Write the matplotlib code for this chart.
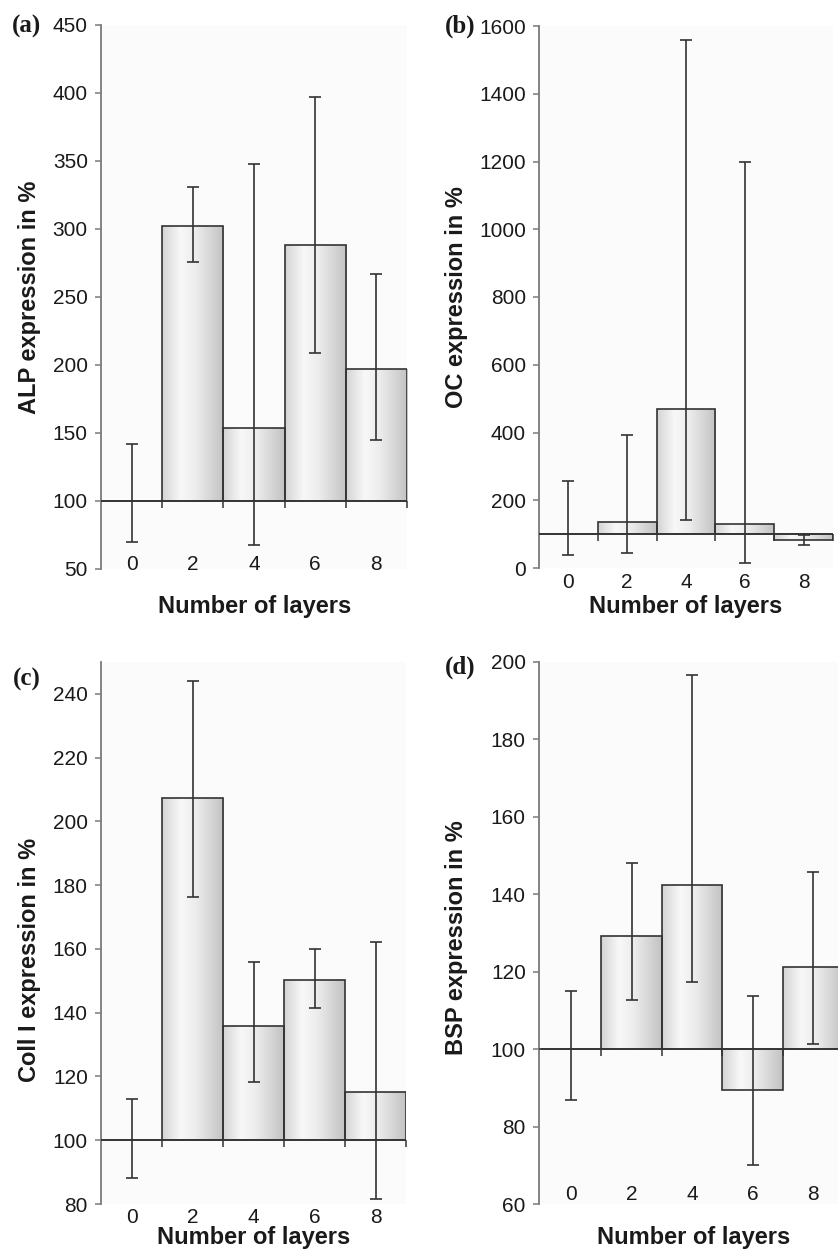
import numpy as np
import matplotlib
matplotlib.use("Agg")
import matplotlib.pyplot as plt
from matplotlib.colors import LinearSegmentedColormap
from matplotlib.markers import TICKDOWN

# ---------------- data ----------------
layers = ["0", "2", "4", "6", "8"]

alp_mean = [100, 302, 154, 288, 197]
alp_low = [70, 276, 68, 209, 145]
alp_high = [142, 331, 348, 397, 267]

oc_mean = [100, 136, 468, 131, 82]
oc_low = [38, 43, 141, 14, 68]
oc_high = [257, 393, 1560, 1200, 97]

col_mean = [100, 207.2, 135.7, 150.4, 115.2]
col_low = [88.2, 176.4, 118.3, 141.5, 81.6]
col_high = [113, 244, 156, 160.1, 162.3]

bsp_mean = [100, 129.3, 142.5, 89.4, 121.3]
bsp_low = [86.8, 112.8, 117.4, 70.2, 101.3]
bsp_high = [115, 148, 196.6, 113.7, 145.8]

alp_ticks = list(range(50, 451, 50))
oc_ticks = list(range(0, 1601, 200))
col_ticks = list(range(80, 241, 20))
bsp_ticks = list(range(60, 201, 20))

BASE = 100

# ---------------- figure ----------------
W, H = 838, 1251
DPI = 100
fig = plt.figure(figsize=(W / DPI, H / DPI), dpi=DPI)
fig.patch.set_facecolor("white")

SANS = "Liberation Sans"
SERIF = "Liberation Serif"

grad_cmap = LinearSegmentedColormap.from_list(
    "bargrad",
    [(0.0, "#d4d4d4"), (0.3, "#f8f8f8"), (0.55, "#ececec"), (1.0, "#c2c2c2")])
grad = np.linspace(0, 1, 256).reshape(1, -1)


def px_axes(left, right, top, bottom):
    return fig.add_axes([left / W, 1 - bottom / H, (right - left) / W, (bottom - top) / H])


def panel(ax, mean, low, high, ylim, yticks, xlim, xpad):
    x = np.arange(len(layers))
    ax.set_facecolor("#fbfbfb")
    heights = [m - BASE for m in mean]
    bars = ax.bar(x, heights, width=1.0, bottom=BASE, facecolor="none",
                  edgecolor="#333333", linewidth=1.2, zorder=3)
    for p in bars.patches:
        bb = p.get_bbox()
        y0, y1 = sorted([bb.y0, bb.y1])
        if y1 - y0 <= 0:
            continue
        im = ax.imshow(grad, extent=(bb.x0, bb.x1, y0, y1), aspect="auto",
                       cmap=grad_cmap, vmin=0, vmax=1, zorder=2,
                       interpolation="bilinear")
        im.set_clip_path(p)
    ax.axhline(BASE, color="#333333", lw=1.2, zorder=3.5)
    edges = x[1:] - 0.5
    edges = np.append(edges, x[-1] + 0.5)
    ax.plot(edges, [BASE] * len(edges), ls="none", marker=TICKDOWN,
            markersize=5, markeredgewidth=1.1, color="#333333", zorder=3.5,
            clip_on=False)
    yerr = [np.array(mean) - np.array(low), np.array(high) - np.array(mean)]
    ax.errorbar(x, mean, yerr=yerr, fmt="none", ecolor="#333333",
                elinewidth=1.2, capsize=4.5, capthick=1.2, zorder=4)
    ax.set_xlim(*xlim)
    ax.set_ylim(*ylim)
    ax.set_yticks(yticks)
    ax.set_xticks(x)
    ax.set_xticklabels(layers)
    for s in ["top", "right", "bottom"]:
        ax.spines[s].set_visible(False)
    ax.spines["left"].set_color("#7a7a7a")
    ax.spines["left"].set_linewidth(1.3)
    ax.tick_params(axis="y", direction="out", length=4.5, width=1.1,
                   color="#7a7a7a", labelsize=15, labelcolor="#1a1a1a", pad=5)
    ax.tick_params(axis="x", length=0, labelsize=15, labelcolor="#1a1a1a", pad=xpad)
    for lab in ax.get_xticklabels() + ax.get_yticklabels():
        lab.set_fontfamily(SANS)


ax_a = px_axes(101, 407, 25, 569)
panel(ax_a, alp_mean, alp_low, alp_high, (50, 450), alp_ticks, (-0.5, 4.5), -10.1)

ax_b = px_axes(539, 833, 26, 568)
panel(ax_b, oc_mean, oc_low, oc_high, (0, 1600), oc_ticks, (-0.5, 4.5), 3.6)

ax_c = px_axes(101, 406, 662, 1204)
panel(ax_c, col_mean, col_low, col_high, (80, 250), col_ticks, (-0.5, 4.5), 2.9)

ax_d = px_axes(539, 838, 662, 1204)
panel(ax_d, bsp_mean, bsp_low, bsp_high, (60, 200), bsp_ticks, (-0.53, 4.41), -13.7)


def ftext(x, y, s, **kw):
    fig.text(x / W, 1 - y / H, s, **kw)


# panel letters
for (x, y, s) in [(12, 26, "(a)"), (445, 26, "(b)"), (13, 679, "(c)"), (445, 667, "(d)")]:
    ftext(x, y, s, fontfamily=SERIF, fontweight="bold", fontsize=18,
          ha="left", va="center", color="#1a1a1a")

# y labels
for (x, y, s) in [(36, 297, "ALP expression in %"), (463, 297, "OC expression in %"),
                  (36, 960, "Coll I expression in %"), (463, 938, "BSP expression in %")]:
    ftext(x, y, s, fontfamily=SANS, fontweight="bold", fontsize=17, rotation=90,
          rotation_mode="anchor", ha="center", va="baseline", color="#1a1a1a")

# x labels
for (x, y, s) in [(255, 613, "Number of layers"), (686, 613, "Number of layers"),
                  (254, 1244, "Number of layers"), (694, 1244, "Number of layers")]:
    ftext(x, y, s, fontfamily=SANS, fontweight="bold", fontsize=17,
          ha="center", va="baseline", color="#1a1a1a")

fig.savefig("out.png", dpi=DPI, facecolor="white")
